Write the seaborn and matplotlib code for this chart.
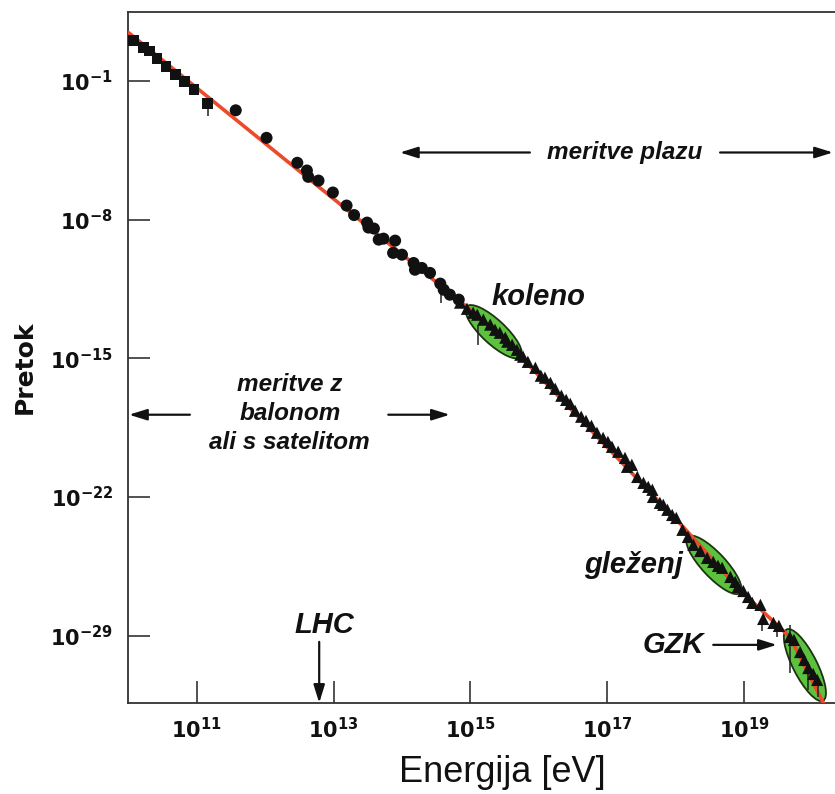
import numpy as np
import pandas as pd
import matplotlib
matplotlib.use("Agg")
import matplotlib.pyplot as plt
import matplotlib.transforms as mtransforms
from matplotlib.patches import Ellipse
from matplotlib.ticker import FixedLocator, FuncFormatter, NullLocator
import seaborn as sns

# all values are log10 (energy in eV, flux in arbitrary units)
line_logE = [10.00, 15.00, 15.54, 18.11, 18.94, 19.67, 20.16]
line_logF = [1.45, -12.55, -14.21, -23.51, -26.70, -29.07, -32.40]

# balloon / satellite points (squares)
sq_logE = [10.07, 10.22, 10.31, 10.42, 10.55, 10.69, 10.82, 10.96, 11.16]
sq_logF = [1.06, 0.68, 0.51, 0.12, -0.25, -0.66, -1.01, -1.43, -2.15]

# direct measurements (circles)
ci_logE = [11.57, 12.02, 12.47, 12.61, 12.63, 12.78, 12.99, 13.19, 13.30, 13.49,
           13.51, 13.59, 13.66, 13.73, 13.90, 13.87, 14.00, 14.17, 14.19, 14.29,
           14.41, 14.56, 14.61, 14.70, 14.83]
ci_logF = [-2.48, -3.87, -5.13, -5.52, -5.84, -6.03, -6.63, -7.29, -7.77, -8.15,
           -8.40, -8.45, -9.01, -8.96, -9.06, -9.68, -9.77, -10.19, -10.53, -10.44,
           -10.69, -11.23, -11.54, -11.79, -12.04]

# air shower measurements (triangles)
tr_logE = [14.85, 14.95, 15.04, 15.10, 15.19, 15.29, 15.36, 15.43, 15.51, 15.54,
           15.61, 15.68, 15.73, 15.77, 15.84, 15.95, 16.03, 16.09, 16.17, 16.24,
           16.33, 16.40, 16.46, 16.53, 16.62, 16.69, 16.77, 16.85, 16.94, 17.01,
           17.07, 17.16, 17.26, 17.29, 17.36, 17.44, 17.53, 17.60, 17.66, 17.67,
           17.77, 17.82, 17.88, 17.95, 18.01, 18.10, 18.18, 18.26, 18.36, 18.46,
           18.55, 18.62, 18.68, 18.80, 18.87, 18.91, 18.99, 19.06, 19.12, 19.24,
           19.28, 19.43, 19.51, 19.67, 19.73, 19.82, 19.88, 19.94, 20.01, 20.07]
tr_logF = [-12.19, -12.50, -12.70, -12.80, -13.05, -13.30, -13.56, -13.71, -13.96, -14.16,
           -14.32, -14.57, -14.82, -14.92, -15.18, -15.48, -15.88, -15.98, -16.24, -16.54,
           -16.89, -17.10, -17.30, -17.65, -17.95, -18.16, -18.41, -18.76, -19.02, -19.22,
           -19.47, -19.72, -20.03, -20.48, -20.38, -20.99, -21.29, -21.49, -21.64, -22.00,
           -22.30, -22.40, -22.65, -22.91, -23.06, -23.66, -24.02, -24.42, -24.73, -25.08,
           -25.28, -25.48, -25.58, -26.04, -26.29, -26.54, -26.75, -27.05, -27.35, -27.45,
           -28.16, -28.36, -28.51, -29.07, -29.22, -29.83, -30.23, -30.64, -30.94, -31.24]

# error bars
err_logE = [11.16, 14.57, 15.11, 19.27, 19.48, 19.67, 19.94, 20.08]
err_lo = [-2.79, -12.19, -14.32, -28.77, -29.07, -30.89, -31.75, -32.10]
err_hi = [-2.14, -11.69, -13.30, -28.11, -28.47, -28.47, -30.59, -31.14]

x_tick_exp = [11, 13, 15, 17, 19]
y_tick_exp = [-1, -8, -15, -22, -29]

# highlighted regions: name, centre (log E, log F), length px, width px, angle
regions = [("koleno", 15.34, -13.66, 74, 24, -43),
           ("glezenj", 18.56, -25.43, 77, 24, -47),
           ("GZK", 19.89, -30.49, 80, 24, -63)]

sns.set_theme(style="ticks")
plt.rcParams["font.family"] = ["Liberation Sans", "DejaVu Sans"]
plt.rcParams["mathtext.fontset"] = "dejavusans"

line_df = pd.DataFrame({"E": 10.0 ** np.array(line_logE), "F": 10.0 ** np.array(line_logF)})
sq_df = pd.DataFrame({"E": 10.0 ** np.array(sq_logE), "F": 10.0 ** np.array(sq_logF)})
ci_df = pd.DataFrame({"E": 10.0 ** np.array(ci_logE), "F": 10.0 ** np.array(ci_logF)})
tr_df = pd.DataFrame({"E": 10.0 ** np.array(tr_logE), "F": 10.0 ** np.array(tr_logF)})

fig = plt.figure(figsize=(8.35, 7.94), dpi=100, facecolor="white")
ax = fig.add_axes([0.1537, 0.114, 0.8463, 0.8703])
ax.set_facecolor("white")
ax.set_xscale("log")
ax.set_yscale("log")
ax.set_xlim(10 ** 10.0, 10 ** 20.33)
ax.set_ylim(10 ** -32.43, 10 ** 2.46)

ink = "#111111"
for name, cx, cy, L, W, ang in regions:
    e = Ellipse((0, 0), L, W, angle=ang, facecolor="#5cc23e", edgecolor="#1c3312",
                lw=1.3, zorder=2,
                transform=mtransforms.ScaledTranslation(10 ** cx, 10 ** cy, ax.transData))
    ax.add_patch(e)

sns.lineplot(data=line_df, x="E", y="F", sort=False, color="#ec4a2a", lw=2.6, ax=ax, zorder=3)
ax.vlines(10.0 ** np.array(err_logE), 10.0 ** np.array(err_lo), 10.0 ** np.array(err_hi),
          color="#222222", lw=1.1, zorder=3)
sns.scatterplot(data=sq_df, x="E", y="F", marker="s", s=60, color=ink, edgecolor="none", ax=ax, zorder=4)
sns.scatterplot(data=ci_df, x="E", y="F", marker="o", s=75, color=ink, edgecolor="none", ax=ax, zorder=4)
sns.scatterplot(data=tr_df, x="E", y="F", marker="^", s=78, color=ink, edgecolor="none", ax=ax, zorder=4)

ax.xaxis.set_major_locator(FixedLocator([10.0 ** k for k in x_tick_exp]))
ax.yaxis.set_major_locator(FixedLocator([10.0 ** k for k in y_tick_exp]))
ax.xaxis.set_minor_locator(NullLocator())
ax.yaxis.set_minor_locator(NullLocator())
fmt = FuncFormatter(lambda v, p: r"$\mathbf{10^{%d}}$" % round(np.log10(v)))
ax.xaxis.set_major_formatter(fmt)
ax.yaxis.set_major_formatter(fmt)
ax.tick_params(axis="both", direction="in", length=16, width=1.2, color="#333333",
               labelsize=15, labelcolor="#111111")
ax.tick_params(axis="x", pad=10)
ax.tick_params(axis="y", pad=11)

for side in ["left", "bottom", "top"]:
    ax.spines[side].set_color("#333333")
    ax.spines[side].set_linewidth(1.3)
ax.spines["right"].set_visible(False)

ax.set_xlabel("Energija [eV]", fontsize=26, color="#111111")
ax.set_ylabel("Pretok", fontsize=18, fontweight="bold", family="DejaVu Sans", color="#111111")
ax.xaxis.set_label_coords(0.53, -0.075)
ax.yaxis.set_label_coords(-0.129, 0.487)

note = dict(fontweight="bold", style="italic", color="#111111", ha="center", va="center")
arrow = dict(arrowstyle="-|>,head_length=0.9,head_width=0.28", color="#111111", lw=1.6,
             shrinkA=0, shrinkB=0)

def arr(x0, y0, x1, y1):
    ax.annotate("", xy=(10 ** x1, 10 ** y1), xytext=(10 ** x0, 10 ** y0), arrowprops=arrow)

ax.text(10 ** 17.25, 10 ** -4.61, "meritve plazu", fontsize=17.5, **note)
arr(15.87, -4.61, 13.97, -4.61)
arr(18.65, -4.61, 20.30, -4.61)

ax.text(10 ** 12.36, 10 ** -16.34, "meritve z", fontsize=17.5, **note)
ax.text(10 ** 12.36, 10 ** -17.77, "balonom", fontsize=17.5, **note)
ax.text(10 ** 12.36, 10 ** -19.27, "ali s satelitom", fontsize=17.5, **note)
arr(10.90, -17.85, 10.01, -17.85)
arr(13.80, -17.85, 14.70, -17.85)

ax.text(10 ** 15.99, 10 ** -11.89, "koleno", fontsize=21, **note)
ax.text(10 ** 17.38, 10 ** -25.43, "gleženj", fontsize=21, **note)
ax.text(10 ** 17.96, 10 ** -29.47, "GZK", fontsize=21, **note)
arr(18.55, -29.47, 19.48, -29.47)
ax.text(10 ** 12.86, 10 ** -28.46, "LHC", fontsize=21, **note)
arr(12.79, -29.32, 12.79, -32.40)

fig.savefig("out.png", dpi=100, facecolor="white")
